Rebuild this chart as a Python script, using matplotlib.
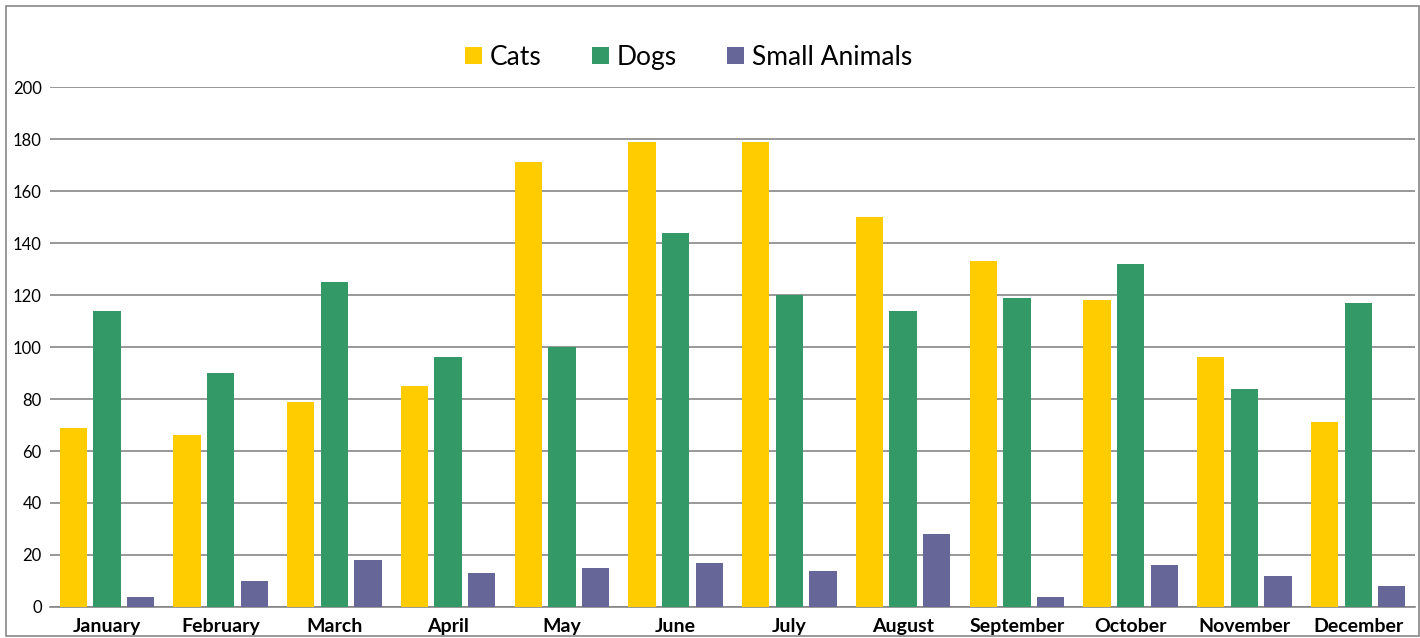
import numpy as np
import matplotlib.pyplot as plt
from matplotlib.patches import Rectangle

months = ["January", "February", "March", "April", "May", "June", "July",
          "August", "September", "October", "November", "December"]
cats = [69, 66, 79, 85, 171, 179, 179, 150, 133, 118, 96, 71]
dogs = [114, 90, 125, 96, 100, 144, 120, 114, 119, 132, 84, 117]
small_animals = [4, 10, 18, 13, 15, 17, 14, 28, 4, 16, 12, 8]

plt.rcParams['font.family'] = ['Lato', 'DejaVu Sans']

fig = plt.figure(figsize=(14.2, 6.38), dpi=100)
ax = fig.add_axes([0.0352, 0.0486, 0.9613, 0.815])

x = np.arange(len(months))
w = 0.24
off = 0.295
ax.bar(x - off, cats, w, color="#FFCC00", label="Cats", zorder=3)
ax.bar(x, dogs, w, color="#339966", label="Dogs", zorder=3)
ax.bar(x + off, small_animals, w, color="#666699", label="Small Animals", zorder=3)

ax.set_xlim(-0.5, len(months) - 0.5)
ax.set_ylim(0, 200)
ax.set_yticks(range(0, 201, 20))
ax.yaxis.grid(True, color="#868686", linewidth=1.2, zorder=0)
ax.set_xticks(x)
ax.set_xticklabels(months, fontweight="bold", fontsize=14)
ax.tick_params(axis="x", length=0, pad=8)
ax.tick_params(axis="y", length=0, labelsize=12, pad=6)
for s in ["top", "right", "left"]:
    ax.spines[s].set_visible(False)
ax.spines["bottom"].set_color("#868686")
ax.spines["bottom"].set_linewidth(1.2)

fig.legend(loc="center", bbox_to_anchor=(0.485, 0.91), ncol=3, frameon=False,
           fontsize=19, handlelength=0.65, handleheight=0.65, handletextpad=0.3,
           columnspacing=1.9)

fig.patches.append(Rectangle((0.004, 0.003), 0.995, 0.988, transform=fig.transFigure,
                             fill=False, edgecolor="#888888", linewidth=1.2))

fig.savefig("out.png", dpi=100)
